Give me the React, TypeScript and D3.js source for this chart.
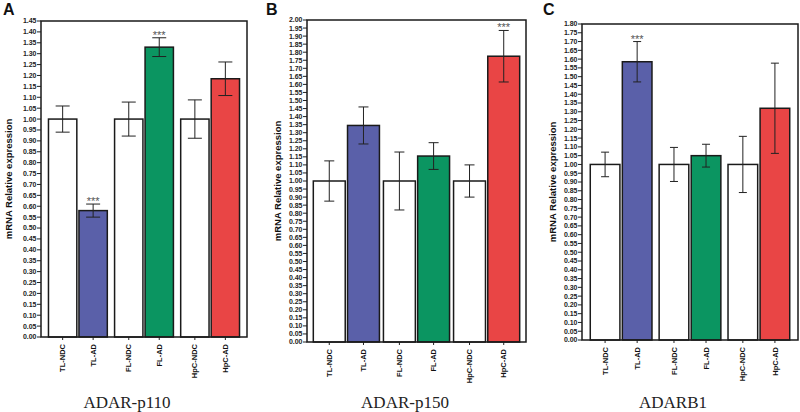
import React from "react";
import { scaleBand, scaleLinear, range, format } from "d3";

const categories = ["TL-NDC", "TL-AD", "FL-NDC", "FL-AD", "HpC-NDC", "HpC-AD"];
const groups = ["TL", "FL", "HpC"];
const conditions = ["NDC", "AD"];

const p110Means = [1.0, 0.58, 1.0, 1.33, 1.0, 1.185];
const p110Err = [0.06, 0.03, 0.078, 0.043, 0.088, 0.077];
const p110Sig = ["", "***", "", "***", "", ""];

const p150Means = [1.0, 1.345, 1.0, 1.155, 1.0, 1.775];
const p150Err = [0.125, 0.115, 0.18, 0.083, 0.1, 0.16];
const p150Sig = ["", "", "", "", "", "***"];

const adarb1Means = [1.0, 1.585, 1.0, 1.05, 1.0, 1.32];
const adarb1Err = [0.07, 0.115, 0.097, 0.065, 0.16, 0.257];
const adarb1Sig = ["", "***", "", "", "", ""];

const barColors = ["#ffffff", "#5a60a9", "#ffffff", "#0b9561", "#ffffff", "#e94545"];

const panels = [
  { letter: "A", title: "ADAR-p110", means: p110Means, err: p110Err, sig: p110Sig, yMax: 1.45,
    left: 41, right: 247, top: 21, bottom: 337, pIn: 0.11, pOut: 0.113, pBar: 0.07, cap: 14,
    labelX: 9, letterX: 3, titleX: 127 },
  { letter: "B", title: "ADAR-p150", means: p150Means, err: p150Err, sig: p150Sig, yMax: 2.0,
    left: 307, right: 526, top: 20, bottom: 342, pIn: 0.057, pOut: 0.09, pBar: 0.067, cap: 10,
    labelX: 278, letterX: 266, titleX: 405 },
  { letter: "C", title: "ADARB1", means: adarb1Means, err: adarb1Err, sig: adarb1Sig, yMax: 1.8,
    left: 582, right: 798, top: 24, bottom: 340, pIn: 0.104, pOut: 0.12, pBar: 0.075, cap: 8,
    labelX: 553, letterX: 543, titleX: 673 },
];

const fmt = format(".2f");
const sans = "'Liberation Sans', Arial, sans-serif";

function Panel({ p }) {
  const y = scaleLinear().domain([0, p.yMax]).range([p.bottom, p.top]);
  const gx = scaleBand().domain(groups).range([p.left, p.right]).paddingInner(p.pIn).paddingOuter(p.pOut);
  const cx = scaleBand().domain(conditions).range([0, gx.bandwidth()]).paddingInner(p.pBar);
  const ticks = range(0, Math.round(p.yMax / 0.05) + 1).map((i) => i * 0.05);

  const bars = categories.map((c, i) => {
    const g = groups[Math.floor(i / 2)];
    const x0 = gx(g) + cx(conditions[i % 2]);
    return { c, i, x0, w: cx.bandwidth(), mid: x0 + cx.bandwidth() / 2 };
  });

  return (
    <g>
      <text x={p.letterX} y={15} fontFamily={sans} fontWeight="bold" fontSize={16} fill="#111">{p.letter}</text>
      {ticks.map((t) => (
        <g key={t}>
          <line x1={p.left - 4} x2={p.left} y1={y(t)} y2={y(t)} stroke="#222" strokeWidth={1} />
          <text x={p.left - 4.5} y={y(t)} dy="0.35em" textAnchor="end" fontFamily={sans}
            fontWeight="bold" fontSize={7} fill="#222">{fmt(t)}</text>
        </g>
      ))}
      <text transform={`translate(${p.labelX},${(p.top + p.bottom) / 2}) rotate(-90)`} textAnchor="middle"
        dy="0.35em" fontFamily={sans} fontWeight="bold" fontSize={9.5} fill="#111">mRNA Relative expression</text>
      {bars.map((b) => {
        const m = p.means[b.i];
        const e = p.err[b.i];
        return (
          <g key={b.c}>
            <rect x={b.x0} y={y(m)} width={b.w} height={y(0) - y(m)} fill={barColors[b.i]}
              stroke="#1a1a1a" strokeWidth={1.5} />
            <line x1={b.mid} x2={b.mid} y1={y(m - e)} y2={y(m + e)} stroke="#222" strokeWidth={1} />
            <line x1={b.mid - p.cap / 2} x2={b.mid + p.cap / 2} y1={y(m + e)} y2={y(m + e)} stroke="#222" strokeWidth={1} />
            <line x1={b.mid - p.cap / 2} x2={b.mid + p.cap / 2} y1={y(m - e)} y2={y(m - e)} stroke="#222" strokeWidth={1} />
            {p.sig[b.i] && (
              <text x={b.mid} y={y(m + e) + 1} textAnchor="middle" fontFamily={sans} fontSize={11}
                fill="#555">{p.sig[b.i]}</text>
            )}
            <line x1={b.mid} x2={b.mid} y1={p.bottom} y2={p.bottom + 3} stroke="#222" strokeWidth={1} />
            <text transform={`translate(${b.mid},${p.bottom + 7}) rotate(-90)`} textAnchor="end" dy="0.35em"
              fontFamily={sans} fontWeight="bold" fontSize={7.5} fill="#111">{b.c}</text>
          </g>
        );
      })}
      <rect x={p.left} y={p.top} width={p.right - p.left} height={p.bottom - p.top} fill="none"
        stroke="#1a1a1a" strokeWidth={1.5} />
      <text x={p.titleX} y={408} textAnchor="middle" fontFamily="'Liberation Serif', 'Times New Roman', serif"
        fontSize={17} fill="#222">{p.title}</text>
    </g>
  );
}

export default function App() {
  return (
    <svg width={800} height={412} style={{ position: "absolute", left: 0, top: 0, background: "#fff" }}>
      {panels.map((p) => (
        <Panel key={p.letter} p={p} />
      ))}
    </svg>
  );
}
